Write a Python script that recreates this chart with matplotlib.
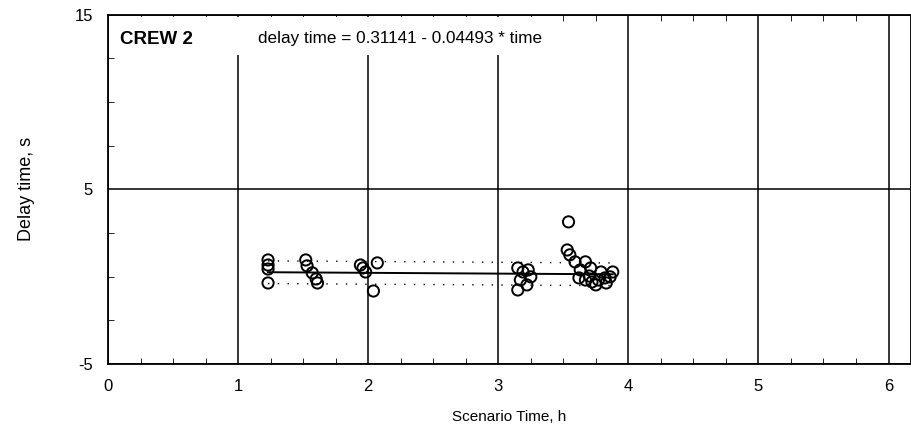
import matplotlib
matplotlib.use("Agg")
import matplotlib.pyplot as plt
from matplotlib.patches import Rectangle
import numpy as np

plt.rcParams['font.family'] = ['Liberation Sans', 'DejaVu Sans']

# Data
time_h = [1.23, 1.23, 1.23, 1.23,
          1.52, 1.53, 1.57, 1.60, 1.61,
          1.94, 1.96, 1.98, 2.07, 2.04,
          3.15, 3.19, 3.17, 3.15, 3.23, 3.22, 3.25,
          3.54, 3.53, 3.55, 3.59, 3.63, 3.67, 3.71,
          3.62, 3.67, 3.72, 3.77, 3.82, 3.86, 3.88, 3.79, 3.83, 3.75, 3.70]
delay_s = [0.96, 0.67, 0.44, -0.36,
           0.96, 0.62, 0.22, -0.13, -0.36,
           0.67, 0.50, 0.27, 0.79, -0.82,
           0.50, 0.27, -0.19, -0.76, 0.39, -0.47, -0.01,
           3.14, 1.53, 1.25, 0.85, 0.39, 0.85, 0.50,
           -0.07, -0.19, -0.30, -0.19, -0.07, -0.01, 0.27, 0.27, -0.36, -0.47, 0.04]
intercept = 0.31141
slope = -0.04493
band = 0.65
x_ticks = [0, 1, 2, 3, 4, 5, 6]
x_tick_labels = ['0', '1', '2', '3', '4', '5', '6']
y_ticks = [-5, 5, 15]
y_tick_labels = ['-5', '5', '15']

fig = plt.figure(figsize=(9.11, 4.42), dpi=100)
ax = fig.add_axes([0.1186, 0.1765, 0.881, 0.79])

x = np.array(time_h)
y = np.array(delay_s)
xl = np.array([x.min(), x.max()])
yl = intercept + slope * xl

ax.plot(xl, yl, color='black', lw=1.4, zorder=3)
ax.plot(xl, yl + band, color='black', lw=1.0, ls=(0, (1, 6)), zorder=3)
ax.plot(xl, yl - band, color='black', lw=1.0, ls=(0, (1, 6)), zorder=3)
ax.scatter(x, y, s=65, facecolors='none', edgecolors='black', linewidths=1.4, zorder=4)

ax.set_xlim(0, 6.17)
ax.set_ylim(-5, 15)
ax.set_xticks(x_ticks, labels=x_tick_labels)
ax.set_yticks(y_ticks, labels=y_tick_labels)
ax.set_xticks(np.arange(0, 6.2, 0.25), minor=True)
ax.set_yticks(np.arange(-5, 15.1, 2.5), minor=True)
ax.tick_params(which='major', length=0, labelsize=12, pad=11)
ax.tick_params(which='minor', direction='in', length=4, top=True, right=False)
ax.grid(True, which='major', color='black', lw=1.1)

for s in ax.spines.values():
    s.set_color('black')
    s.set_linewidth(1.3)

ax.set_xlabel('Scenario Time, h', fontsize=11, labelpad=11)
ax.set_ylabel('Delay time, s', fontsize=13, labelpad=28)

# white title box covering gridlines behind the annotation text
ax.add_patch(Rectangle((0.004, 0.885), 0.56, 0.11, transform=ax.transAxes,
                       facecolor='white', edgecolor='none', zorder=2.5))
ax.text(0.015, 0.955, 'CREW 2', transform=ax.transAxes, fontsize=13.5,
        fontweight='bold', va='top', ha='left', zorder=5)
ax.text(0.187, 0.955, 'delay time = 0.31141 - 0.04493 * time', transform=ax.transAxes,
        fontsize=12.3, va='top', ha='left', zorder=5)

fig.savefig('out.png', dpi=100)
